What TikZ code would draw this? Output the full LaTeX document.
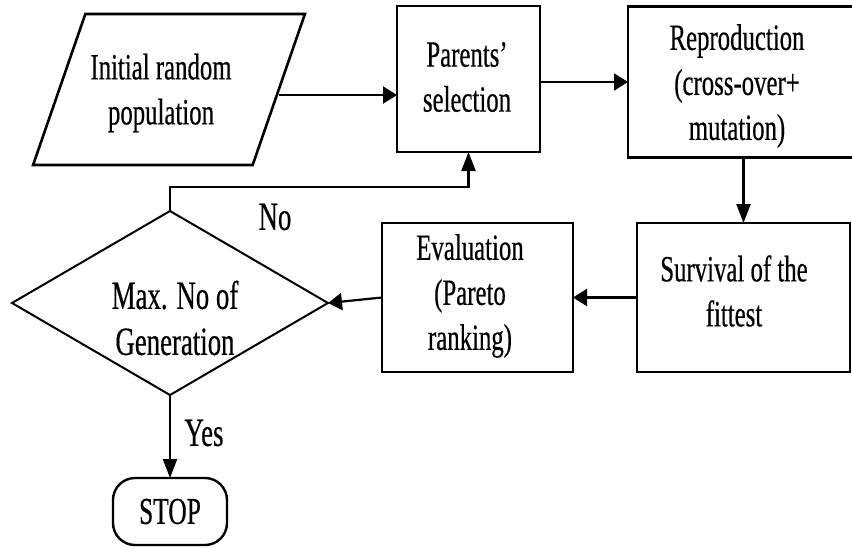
\documentclass[tikz,border=0pt]{standalone}
\usepackage{fontspec}
\setmainfont{Liberation Serif}[FakeStretch=0.67,FakeBold=0.4]
\usetikzlibrary{shapes.geometric,arrows.meta}
\tikzset{
  box/.style={draw, line width=2.6pt, rectangle, inner sep=0pt, outer sep=0pt},
  txt/.style={align=center, inner sep=0pt, font=\fontsize{37}{45}\selectfont},
  dtxt/.style={align=center, inner sep=0pt, font=\fontsize{40}{46}\selectfont},
  lbl/.style={font=\fontsize{40}{46}\selectfont, inner sep=0pt},
  harr/.style={line width=2.2pt, -{Triangle[length=14pt,width=17pt]}},
  varr/.style={line width=2.2pt, -{Triangle[length=19pt,width=14pt]}},
}
\begin{document}
\begin{tikzpicture}[x=1pt, y=-1pt]
\useasboundingbox (0,0) rectangle (852,547);
% shapes
\node[draw, line width=2.6pt, trapezium, trapezium stretches=true,
  trapezium left angle=77, trapezium right angle=103,
  minimum width=272pt, minimum height=151pt, inner sep=0pt, outer sep=0pt] (init) at (169,89.5) {\phantom{X}};
\node[box, minimum width=143pt, minimum height=146pt] (parents) at (468.5,79) {};
\node[box, minimum width=225pt, minimum height=151pt] (repro) at (740.5,82) {};
\node[box, minimum width=213pt, minimum height=149pt] (surv) at (743.5,297.5) {};
\node[box, minimum width=191pt, minimum height=149pt] (eval) at (477.5,297.5) {};
\node[draw, diamond, line width=2pt, inner sep=0pt, outer sep=0pt, aspect=1.72,
  minimum width=316pt, minimum height=184pt] (dec) at (170,303) {};
\node[draw, line width=2.4pt, rounded corners=22pt, minimum width=114pt, minimum height=67pt,
  inner sep=0pt, outer sep=0pt, font=\fontsize{38}{44}\selectfont] (stop) at (170,511.5) {STOP};
% texts
\node[txt] (inittxt) at (161,93) {Initial random\\population};
\node[txt] (parentstxt) at (467,77) {Parents'\\selection};
\node[txt] (reprotxt) at (737,86) {Reproduction\\(cross-over+\\mutation)};
\node[txt] (survtxt) at (734,291) {Survival of the\\fittest};
\node[txt] (evaltxt) at (470,296) {Evaluation\\(Pareto\\ranking)};
\node[dtxt] (dectxt) at (175,318) {Max. No of\\Generation};
% labels
\node[lbl] (no) at (275,217) {No};
\node[lbl] (yes) at (204,433) {Yes};
% connectors
\coordinate (a1) at (0,95);
\draw[harr] (init.east |- a1) -- (parents.west |- a1);
\draw[harr] (parents.east |- repro.west) -- (repro.west);
\draw[varr] (repro.south -| surv.north) -- (surv.north);
\draw[harr] (surv.west) -- (eval.east);
\draw[harr] (eval.west) -- (dec.east);
\draw[varr] (dec.south) -- (stop.north);
\draw[varr] (dec.north) -- ++(0,-24) -| (parents.south);
\end{tikzpicture}
\end{document}
